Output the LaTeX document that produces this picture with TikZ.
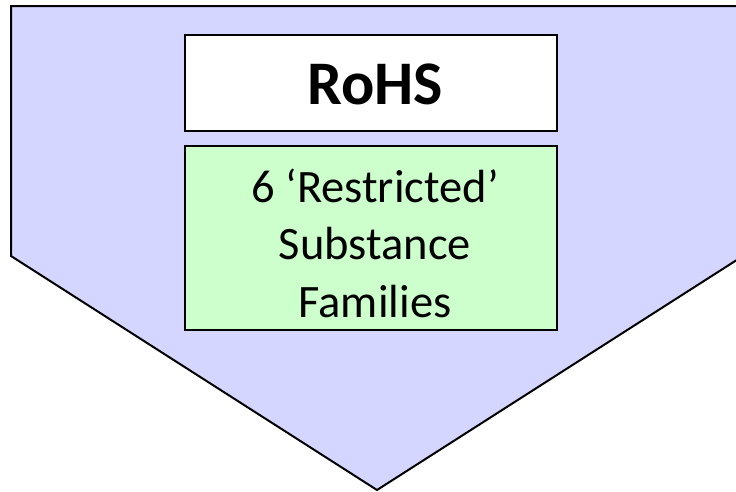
\documentclass[tikz,border=0pt]{standalone}
\usepackage{fontspec}
\setmainfont{Carlito}
\definecolor{chevronfill}{RGB}{213,214,255}
\definecolor{substfill}{RGB}{204,255,204}
\begin{document}
\begin{tikzpicture}[x=1pt,y=-1pt,
  outline/.style={draw=black,line width=2pt,line join=miter},
  labelbox/.style={outline,inner sep=0pt,minimum width=372pt},
  bigtitle/.style={font=\fontsize{62}{70}\selectfont\bfseries},
  bodytext/.style={font=\fontsize{46.5}{57.5}\selectfont,align=center,inner sep=0pt}]
  \useasboundingbox (0,0) rectangle (736,491);
  \clip (0,0) rectangle (736,491);
  % down-pointing chevron behind everything
  \draw[outline,fill=chevronfill] (11,6) -- (743,6) -- (743,256) -- (377,490) -- (11,256) -- cycle;
  % title box
  \node[labelbox,fill=white,minimum height=96pt] (rohs) at (371,83) {};
  \node[bigtitle,inner sep=0pt] (rohstext) at (375,84) {RoHS};
  % substance box and its text
  \node[labelbox,fill=substfill,minimum height=184pt] (subst) at (371,238) {};
  \node[bodytext] (substtext) at (375,243) {6 ‘Restricted’\\Substance\\Families};
\end{tikzpicture}
\end{document}
